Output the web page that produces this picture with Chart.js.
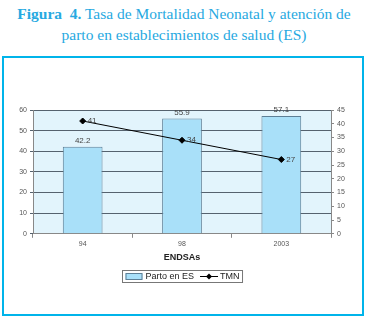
<!DOCTYPE html>
<html>
<head>
<meta charset="utf-8">
<script src="https://cdn.jsdelivr.net/npm/chart.js@4/dist/chart.umd.min.js"></script>
<style>
  body { margin: 0; background: #fff; width: 368px; height: 320px; position: relative; overflow: hidden; }
  #title { position: absolute; left: 0; top: 3px; width: 368px; text-align: center;
    font-family: "Liberation Serif", serif; font-size: 15.5px; line-height: 21px; color: #27a9e1; }
  #title b { font-weight: bold; }
  #frame { position: absolute; left: 2px; top: 56px; width: 358px; height: 256px; border: 2px solid #00b4ea; }
  canvas { display: block; }
</style>
</head>
<body>
<div id="title"><b>Figura&nbsp; 4.</b> Tasa de Mortalidad Neonatal y atención de<br>parto en establecimientos de salud (ES)</div>
<div id="frame"><canvas id="chart" width="358" height="256"></canvas></div>
<script>
var categories = ['94', '98', '2003'];
var partoES = [42.2, 55.9, 57.1];
var tmn = [41, 34, 27];
var leftTicks = [0, 10, 20, 30, 40, 50, 60];
var rightTicks = [0, 5, 10, 15, 20, 25, 30, 35, 40, 45];

var tickFont = { family: 'Liberation Sans', size: 7 };

var areaBg = {
  id: 'areaBg',
  beforeDraw: function (chart) {
    var a = chart.chartArea, ctx = chart.ctx;
    ctx.save();
    ctx.fillStyle = '#e2f4fc';
    ctx.fillRect(a.left, a.top, a.right - a.left, a.bottom - a.top);
    ctx.restore();
  }
};

// values next to bars and line points
var labelsPlugin = {
  id: 'labels',
  afterDatasetsDraw: function (chart) {
    var ctx = chart.ctx;
    ctx.save();
    ctx.font = '8px Liberation Sans';
    ctx.fillStyle = '#444';
    chart.getDatasetMeta(1).data.forEach(function (bar, i) {
      ctx.textAlign = 'center';
      ctx.textBaseline = 'bottom';
      ctx.fillText(String(partoES[i]), bar.x, bar.y - 2);
    });
    chart.getDatasetMeta(0).data.forEach(function (pt, i) {
      ctx.textAlign = 'left';
      ctx.textBaseline = 'middle';
      ctx.fillText(String(tmn[i]), pt.x + 5, pt.y);
    });
    ctx.restore();
  }
};

var legendPlugin = {
  id: 'boxLegend',
  afterDraw: function (chart) {
    var ctx = chart.ctx;
    var cx = (chart.chartArea.left + chart.chartArea.right) / 2;
    var top = 212, h = 12;
    ctx.save();
    ctx.font = '9px Liberation Sans';
    var t1 = chart.data.datasets[1].label, t2 = chart.data.datasets[0].label;
    var w1 = ctx.measureText(t1).width, w2 = ctx.measureText(t2).width;
    var w = 3 + 17 + 3 + w1 + 6 + 18 + 2 + w2 + 3;
    var x = Math.round(cx - w / 2) + 0.5;
    ctx.strokeStyle = '#777';
    ctx.lineWidth = 1;
    ctx.strokeRect(x, top + 0.5, w, h);
    var mid = top + h / 2 + 0.5;
    var px = x + 3;
    ctx.fillStyle = '#a9e0f9';
    ctx.fillRect(px, mid - 3, 17, 6);
    ctx.strokeStyle = '#5d7f96';
    ctx.strokeRect(px + 0.5, mid - 3, 16, 6);
    px += 20;
    ctx.fillStyle = '#222';
    ctx.textBaseline = 'middle';
    ctx.fillText(t1, px, mid + 0.5);
    px += w1 + 6;
    ctx.strokeStyle = '#000';
    ctx.beginPath();
    ctx.moveTo(px, mid); ctx.lineTo(px + 18, mid); ctx.stroke();
    ctx.beginPath();
    ctx.moveTo(px + 9, mid - 3); ctx.lineTo(px + 12, mid); ctx.lineTo(px + 9, mid + 3); ctx.lineTo(px + 6, mid);
    ctx.closePath(); ctx.fillStyle = '#000'; ctx.fill();
    px += 20;
    ctx.fillStyle = '#222';
    ctx.fillText(t2, px, mid + 0.5);
    ctx.restore();
  }
};

new Chart(document.getElementById('chart'), {
  data: {
    labels: categories,
    datasets: [
      {
        type: 'line',
        label: 'TMN',
        data: tmn,
        yAxisID: 'y1',
        borderColor: '#000',
        borderWidth: 1,
        backgroundColor: '#000',
        pointStyle: 'rectRot',
        pointRadius: 3,
        order: 0
      },
      {
        type: 'bar',
        label: 'Parto en ES',
        data: partoES,
        yAxisID: 'y',
        backgroundColor: '#a9e0f9',
        borderColor: '#5d7f96',
        borderWidth: 1,
        barPercentage: 0.4,
        categoryPercentage: 1,
        order: 1
      }
    ]
  },
  options: {
    responsive: false,
    animation: false,
    layout: { padding: { top: 52, bottom: 47, left: 0, right: 0 } },
    plugins: {
      legend: { display: false },
      tooltip: { enabled: false }
    },
    scales: {
      x: {
        offset: true,
        grid: { offset: true, drawOnChartArea: false, color: '#888', tickLength: 4 },
        border: { color: '#888' },
        ticks: { font: tickFont, color: '#555', padding: 2 },
        title: { display: true, text: 'ENDSAs', font: { family: 'Liberation Sans', size: 9, weight: 'bold' }, color: '#222', padding: { top: 2 } }
      },
      y: {
        position: 'left',
        min: 0, max: 60,
        afterBuildTicks: function (s) { s.ticks = leftTicks.map(function (v) { return { value: v }; }); },
        afterFit: function (s) { s.width = 29; },
        grid: { color: '#55626e', tickLength: 3 },
        border: { color: '#888' },
        ticks: { font: tickFont, color: '#555', padding: 3 }
      },
      y1: {
        position: 'right',
        min: 0, max: 45,
        afterBuildTicks: function (s) { s.ticks = rightTicks.map(function (v) { return { value: v }; }); },
        afterFit: function (s) { s.width = 31; },
        grid: { drawOnChartArea: false, color: '#888', tickLength: 3 },
        border: { color: '#888' },
        ticks: { font: tickFont, color: '#555', padding: 3 }
      }
    }
  },
  plugins: [areaBg, labelsPlugin, legendPlugin]
});
</script>
</body>
</html>
